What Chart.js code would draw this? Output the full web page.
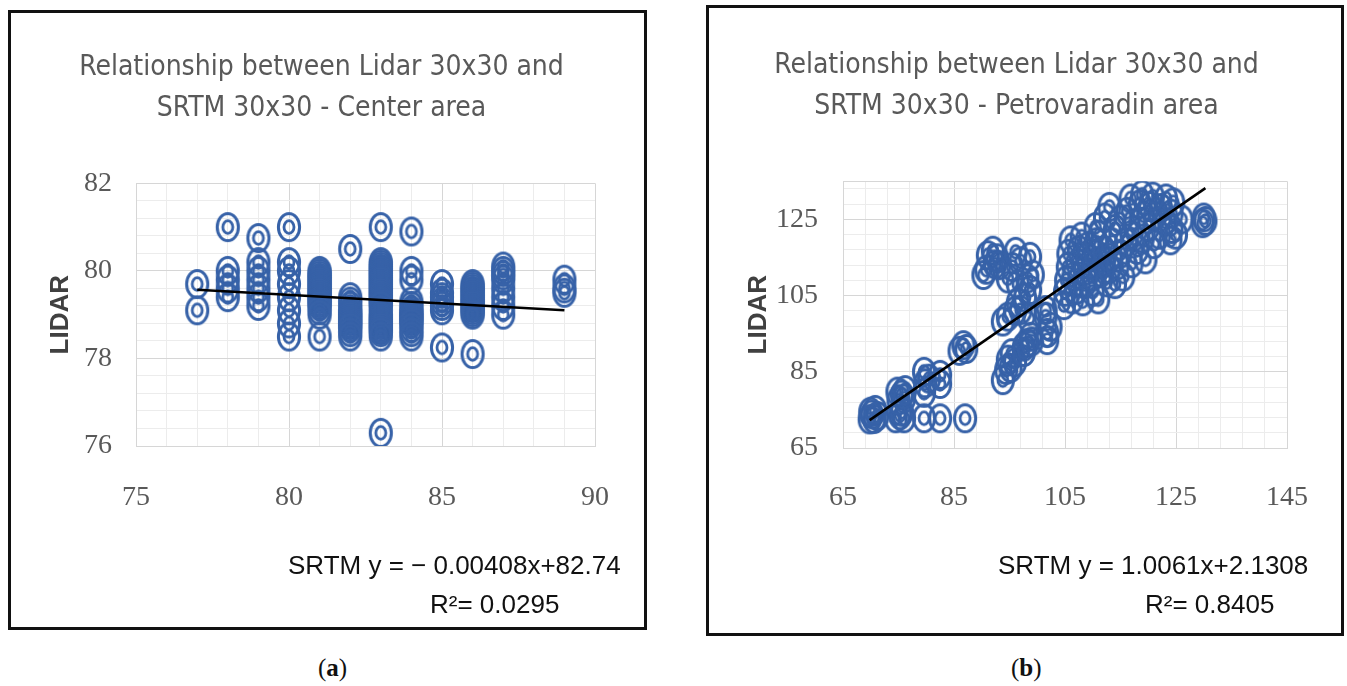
<!DOCTYPE html>
<html>
<head>
<meta charset="utf-8">
<script src="https://cdn.jsdelivr.net/npm/chart.js@4.4.0/dist/chart.umd.min.js"></script>
<style>
  body { margin: 0; width: 1347px; height: 686px; background: #fff; position: relative; overflow: hidden; }
  .panel { position: absolute; border: 3px solid #111; box-sizing: border-box; }
  canvas { position: absolute; }
  .eq { position: absolute; font-family: "Liberation Sans", Arial, sans-serif; font-size: 26px; color: #111; white-space: nowrap; line-height: 30px; }
  .cap { position: absolute; font-family: "Liberation Serif", "Times New Roman", serif; font-size: 25px; color: #111; line-height: 30px; }
</style>
</head>
<body>
<div class="panel" style="left:8px;top:10px;width:639px;height:620px"></div>
<div class="panel" style="left:706px;top:5px;width:638px;height:631px"></div>
<canvas id="center" width="633" height="614" style="left:11px;top:13px"></canvas>
<canvas id="petro" width="632" height="625" style="left:709px;top:8px"></canvas>

<div class="eq" style="left:288px;top:550px">SRTM y = − 0.00408x+82.74</div>
<div class="eq" style="left:430px;top:589px">R²= 0.0295</div>
<div class="eq" style="left:998px;top:550px">SRTM y = 1.0061x+2.1308</div>
<div class="eq" style="left:1145px;top:589px">R²= 0.8405</div>
<div class="cap" style="left:318px;top:653px">(<b>a</b>)</div>
<div class="cap" style="left:1011px;top:653px">(<b>b</b>)</div>

<script>
// (a) Center area: SRTM columns and the LIDAR values stacked on each
const centerSrtm = [77, 78, 79, 80, 81, 82, 83, 84, 85, 86, 87, 89];
const centerLidar = [
  [79.7, 79.1],
  [81.0, 80.0, 79.8, 79.6, 79.4],
  [80.75, 80.2, 80.0, 79.8, 79.6, 79.4, 79.2],
  [81.0, 80.2, 80.0, 79.7, 79.4, 79.1, 78.8, 78.5],
  [80.0, 79.95, 79.9, 79.85, 79.8, 79.75, 79.7, 79.65, 79.6, 79.55, 79.5, 79.45, 79.4, 79.35, 79.3, 79.25, 79.2, 79.1, 79.0, 78.5],
  [80.5, 79.4, 79.3, 79.2, 79.1, 79.05, 79.0, 78.95, 78.9, 78.85, 78.8, 78.75, 78.7, 78.6, 78.5],
  [81.0, 80.2, 80.15, 80.1, 80.05, 80.0, 79.95, 79.9, 79.85, 79.8, 79.75, 79.7, 79.65, 79.6, 79.55, 79.5, 79.45, 79.4,
   79.35, 79.3, 79.25, 79.2, 79.1, 79.0, 78.95, 78.9, 78.85, 78.8, 78.75, 78.7, 78.65, 78.6, 78.5, 76.3],
  [80.9, 80.0, 79.8, 79.3, 79.2, 79.1, 79.05, 79.0, 78.95, 78.9, 78.85, 78.8, 78.7, 78.6, 78.5],
  [79.7, 79.5, 79.4, 79.3, 79.2, 79.1, 78.25],
  [79.7, 79.65, 79.6, 79.55, 79.5, 79.45, 79.4, 79.35, 79.3, 79.25, 79.2, 79.15, 79.1, 79.05, 79.0, 78.1],
  [80.1, 80.0, 79.9, 79.8, 79.6, 79.4, 79.2, 79.0],
  [79.8, 79.6, 79.5]
];
const centerTrendX = [77, 89];
const centerTrendY = [79.57, 79.1];

// (b) Petrovaradin area
const petroSrtm = [
  69.8, 70.2, 70.6, 71.2, 69.9, 70.8, 74.5, 75.3, 76.0, 75.6, 79.6, 82.5, 87.0,
  75.0, 75.6, 76.2, 74.8, 76.0, 79.6, 79.8, 79.6, 80.5, 82.5, 82.5, 86.0, 86.7, 87.2,
  93.8, 94.4, 95.2, 94.7, 95.4, 96.0, 97.6, 98.2, 98.8, 97.6, 99.0,
  101.8, 102.4, 101.8, 101.5, 101.5, 93.8, 94.7, 96.0, 97.0, 96.5, 97.8, 98.5,
  90.3, 90.8, 91.1, 92.0, 92.4, 93.2, 92.8, 94.7, 95.5, 96.1, 97.0, 98.7, 98.2, 98.7, 99.2, 96.5,
  104.8, 105.0, 105.2, 105.5, 105.6, 106.0, 106.3, 106.5, 107.0, 107.2, 107.5, 108.0, 108.2, 108.5,
  108.6, 109.0, 109.2, 110.0, 110.0, 110.2, 110.5, 110.6, 111.0, 111.2, 111.5, 112.0, 112.0, 112.5,
  113.0, 113.2, 113.5, 114.0, 114.0, 114.5, 115.0, 115.0, 115.5, 116.0, 116.2, 117.0, 117.0, 117.5,
  118.0, 118.5, 118.9, 119.0, 119.2, 119.5, 120.0, 120.3, 121.0, 121.2, 122.0, 122.3, 123.0, 124.0,
  124.2, 124.2, 124.5, 125.0, 126.0, 123.2, 120.8, 116.8, 113.0, 112.2, 110.5, 129.8, 130.0, 130.3
];
const petroLidar = [
  72.5, 73.8, 72.6, 73.4, 74.5, 75.0, 72.8, 73.6, 72.8, 74.5, 72.8, 72.8, 72.8,
  77.5, 79.0, 80.2, 79.8, 78.0, 79.5, 82.0, 85.0, 83.2, 84.2, 81.8, 90.5, 92.0, 91.0,
  82.8, 85.5, 86.0, 88.2, 89.9, 87.5, 91.6, 92.5, 94.2, 90.2, 93.0,
  93.3, 96.8, 95.2, 99.5, 101.2, 98.2, 99.5, 101.0, 101.2, 103.2, 104.5, 99.0,
  110.4, 111.8, 115.6, 116.8, 113.2, 113.0, 114.8, 109.5, 112.5, 116.5, 114.0, 115.2, 109.5, 106.5, 110.5, 108.0,
  102.5, 106.0, 109.0, 112.5, 116.0, 119.5, 104.0, 110.0, 106.5, 113.5, 117.0, 120.5, 103.5, 108.0,
  111.5, 115.0, 118.0, 106.0, 110.0, 113.0, 116.0, 119.0, 104.0, 121.0, 111.0, 114.0, 117.0, 108.5,
  112.0, 115.0, 119.0, 108.0, 122.5, 113.0, 116.0, 125.0, 110.0, 119.0, 127.0, 113.5, 121.0, 124.0,
  117.0, 129.0, 131.5, 120.0, 126.0, 114.5, 123.0, 128.5, 118.5, 126.0, 121.0, 128.0, 124.5, 119.5,
  122.5, 126.5, 129.5, 121.0, 125.0, 130.5, 131.0, 130.5, 128.3, 125.5, 123.0, 124.0, 125.5, 124.6
];
const petroTrendX = [69.8, 130.3];
const petroTrendY = [72.3, 133.2];
const petroYTicks = [65, 69, 73, 77, 81, 85, 89, 93, 97, 101, 105, 109, 113, 117, 121, 125, 129, 133, 135];

const MAJOR = '#d6d6d6';
const MINOR = '#ececec';
const TICK_FONT = { family: '"Liberation Serif", "Times New Roman", serif', size: 28 };
const TITLE_FONT = { family: '"DejaVu Sans Condensed", "Liberation Sans", sans-serif', size: 28, weight: 'normal', lineHeight: 1.47 };

function ringMarker() {
  const c = document.createElement('canvas');
  c.width = 28;
  c.height = 34;
  const g = c.getContext('2d');
  g.strokeStyle = '#3762a8';
  g.lineWidth = 3;
  g.beginPath();
  g.ellipse(14, 17, 10.6, 13.6, 0, 0, Math.PI * 2);
  g.stroke();
  g.lineWidth = 2.8;
  g.beginPath();
  g.ellipse(14, 17, 5, 6.3, 0, 0, Math.PI * 2);
  g.stroke();
  return c;
}
const marker = ringMarker();

function isMult(v, base, step) {
  const q = (v - base) / step;
  return Math.abs(q - Math.round(q)) < 1e-6;
}

function makeChart(id, o) {
  new Chart(document.getElementById(id), {
    type: 'scatter',
    data: {
      datasets: [
        {
          type: 'line',
          data: o.trend,
          borderColor: '#000',
          borderWidth: 2.6,
          pointRadius: 0,
          fill: false,
          order: 0
        },
        {
          data: o.points,
          pointStyle: marker,
          pointRadius: 12,
          order: 1
        }
      ]
    },
    options: {
      responsive: false,
      animation: false,
      events: [],
      layout: { padding: { left: 30, right: o.right, top: 0, bottom: o.bottom } },
      plugins: {
        legend: { display: false },
        tooltip: { enabled: false },
        title: {
          display: true,
          text: o.title,
          color: '#595959',
          font: TITLE_FONT,
          padding: { top: o.titleTop, bottom: o.titleBottom }
        }
      },
      scales: {
        x: {
          type: 'linear',
          min: o.xMin,
          max: o.xMax,
          afterFit: s => { s.height = 100; },
          ticks: {
            stepSize: o.xStep,
            autoSkip: false,
            maxRotation: 0,
            padding: o.xPad,
            color: '#595959',
            font: TICK_FONT,
            callback: v => isMult(v, o.xMin, o.xMajor) ? String(Math.round(v)) : ''
          },
          grid: {
            drawTicks: false,
            color: c => isMult(c.tick.value, o.xMin, o.xMajor) ? MAJOR : MINOR
          },
          border: { color: MAJOR }
        },
        y: {
          type: 'linear',
          min: o.yMin,
          max: o.yMax,
          afterFit: s => { s.width = o.yWidth; },
          afterBuildTicks: o.yTicks ? s => { s.ticks = o.yTicks.map(v => ({ value: v })); } : undefined,
          ticks: {
            stepSize: o.yStep,
            autoSkip: false,
            padding: o.yPad,
            color: '#595959',
            font: TICK_FONT,
            callback: v => isMult(v, o.yMin, o.yMajor) ? String(Math.round(v)) : ''
          },
          grid: {
            drawTicks: false,
            color: c => (isMult(c.tick.value, o.yMin, o.yMajor) || c.tick.value === o.yMax) ? MAJOR : MINOR
          },
          border: { color: MAJOR },
          title: {
            display: true,
            text: 'LIDAR',
            color: '#404040',
            font: { family: '"Liberation Sans", Arial, sans-serif', size: 26, weight: 'bold' },
            padding: { top: 4, bottom: 0 }
          }
        }
      }
    }
  });
}

const centerPoints = [];
centerSrtm.forEach((x, i) => centerLidar[i].forEach(y => centerPoints.push({ x: x, y: y })));

makeChart('center', {
  title: ['Relationship between Lidar 30x30 and', 'SRTM 30x30 - Center area'],
  points: centerPoints,
  trend: centerTrendX.map((x, i) => ({ x: x, y: centerTrendY[i] })),
  xMin: 75, xMax: 90, xStep: 1, xMajor: 5, xPad: 35,
  yMin: 76, yMax: 82, yStep: 0.4, yMajor: 2, yPad: 24, yWidth: 95,
  right: 42, bottom: 81, titleTop: 34, titleBottom: 54
});

makeChart('petro', {
  title: ['Relationship between Lidar 30x30 and', 'SRTM 30x30 - Petrovaradin area'],
  points: petroSrtm.map((x, i) => ({ x: x, y: petroLidar[i] })),
  trend: petroTrendX.map((x, i) => ({ x: x, y: petroTrendY[i] })),
  xMin: 65, xMax: 145, xStep: 4, xMajor: 20, xPad: 33,
  yMin: 65, yMax: 135, yStep: 4, yMajor: 20, yPad: 25, yWidth: 104, yTicks: petroYTicks,
  right: 47, bottom: 85, titleTop: 37, titleBottom: 54
});
</script>
</body>
</html>
